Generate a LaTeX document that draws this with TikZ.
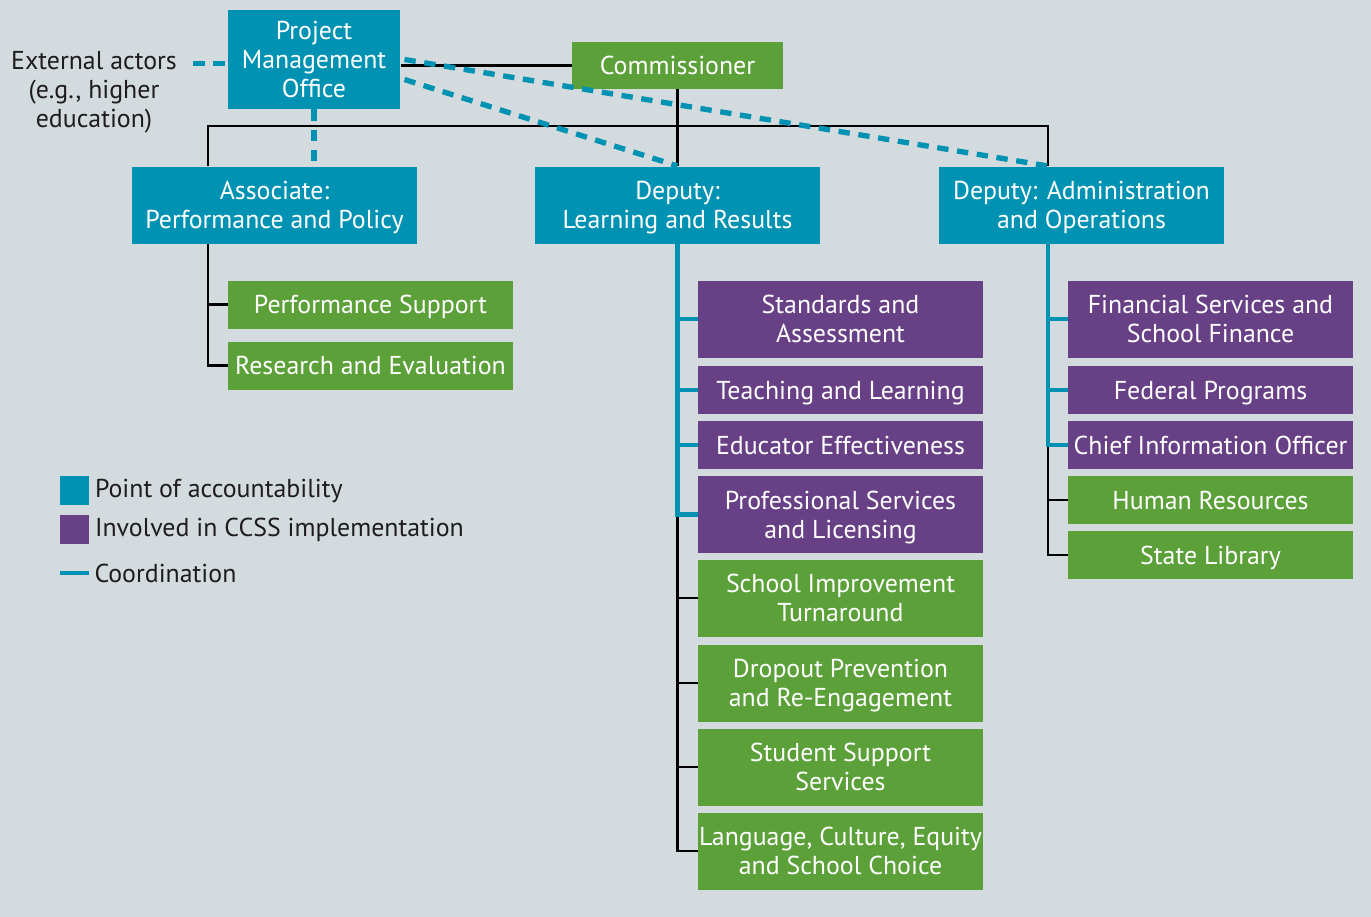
\documentclass[tikz,border=0pt]{standalone}
\usepackage{fontspec}
\setmainfont{PT Sans}
\usetikzlibrary{positioning}

\definecolor{bgcol}{RGB}{211,219,222}
\definecolor{tealcol}{RGB}{0,146,178}
\definecolor{greencol}{RGB}{92,160,57}
\definecolor{purplecol}{RGB}{104,64,134}
\definecolor{inkcol}{RGB}{30,28,29}

\tikzset{every picture/.style={line width=0.75pt}}
\tikzset{
  unit/.style={inner sep=0pt, align=center, text=white, text depth=0pt, font=\fontsize{19.4}{21.75}\selectfont},
  tallunit/.style={unit, minimum width=213.75pt, minimum height=57.75pt},
  flatunit/.style={unit, minimum width=213.75pt, minimum height=36pt},
  legtext/.style={inner sep=0pt, text=inkcol, align=center, font=\fontsize{19.4}{21.75}\selectfont},
  legsquare/.style={inner sep=0pt, minimum size=21.75pt},
  orgline/.style={draw=black, line width=1.9pt},
  coordline/.style={draw=tealcol, line width=3.6pt},
  coorddash/.style={draw=tealcol, line width=4pt, dash pattern=on 8.5pt off 6.5pt}
}

\begin{document}
\begin{tikzpicture}[x=0.75pt,y=0.75pt,yscale=-1,xscale=1]
	%background
	\fill[bgcol] (0,0) rectangle (1371,917);
	\useasboundingbox (0,0) rectangle (1371,917);

	%Shape: Rectangle - top level
	\node[unit, fill=tealcol, minimum width=129pt, minimum height=74.25pt] (pmo) at (314,59.5) {Project\\Management\\Office};
	\node[unit, fill=greencol, minimum width=158.25pt, minimum height=35.25pt] (comm) at (677.5,65.5) {Commissioner};
	% Text Node
	\node[legtext] (ext) at (94,92) {External actors\\(e.g., higher\\education)};

	%Shape: Rectangle - second level
	\node[tallunit, fill=tealcol] (assoc) at (274.5,205) {Associate:\\Performance and Policy};
	\node[tallunit, fill=tealcol] (ldep) at (677.5,205) {Deputy:\\Learning and Results};
	\node[tallunit, fill=tealcol] (adep) at (1081.5,205) {Deputy: Administration\\and Operations};

	%Shape: Rectangle - under associate
	\node[flatunit, fill=greencol] (perf) at (370.5,304.5) {Performance Support};
	\node[flatunit, fill=greencol] (res) at (370.5,365.5) {Research and Evaluation};

	%Shape: Rectangle - under deputy learning
	\node[tallunit, fill=purplecol] (std) at (840.5,319) {Standards and\\Assessment};
	\node[flatunit, fill=purplecol] (teach) at (840.5,390) {Teaching and Learning};
	\node[flatunit, fill=purplecol] (edu) at (840.5,445) {Educator Effectiveness};
	\node[tallunit, fill=purplecol] (prof) at (840.5,514.5) {Professional Services\\and Licensing};
	\node[tallunit, fill=greencol] (imp) at (840.5,598) {School Improvement\\Turnaround};
	\node[tallunit, fill=greencol] (drop) at (840.5,683) {Dropout Prevention\\and Re-Engagement};
	\node[tallunit, fill=greencol] (stud) at (840.5,767) {Student Support\\Services};
	\node[tallunit, fill=greencol] (lang) at (840.5,851) {Language, Culture, Equity\\and School Choice};

	%Shape: Rectangle - under deputy administration
	\node[tallunit, fill=purplecol] (fin) at (1210.5,319) {Financial Services and\\School Finance};
	\node[flatunit, fill=purplecol] (fed) at (1210.5,390) {Federal Programs};
	\node[flatunit, fill=purplecol] (cio) at (1210.5,445) {Chief Information Officer};
	\node[flatunit, fill=greencol] (hr) at (1210.5,500) {Human Resources};
	\node[flatunit, fill=greencol] (lib) at (1210.5,555) {State Library};

	%Straight Lines - reporting
	\coordinate (busl) at (208,126);
	\coordinate (busr) at (1048,126);
	\draw[orgline] (pmo.east |- comm) -- (comm.west);
	\draw[orgline] (comm.south) -- (ldep.north);
	\draw[orgline] (busl |- assoc.north) -- (busl) -- (busr) -- (busr |- adep.north);
	\draw[orgline] (busl |- assoc.south) |- (res.west);
	\draw[orgline] (busl |- perf) -- (perf.west);
	\draw[orgline] (ldep.south |- prof) |- (lang.west);
	\foreach \unitname in {imp,drop,stud}
		\draw[orgline] (ldep.south |- \unitname) -- (\unitname.west);
	\draw[orgline] (busr |- cio) |- (lib.west);
	\draw[orgline] (busr |- hr) -- (hr.west);

	%Straight Lines - coordination
	\draw[coordline] (ldep.south) |- (prof.west);
	\foreach \unitname in {std,teach,edu}
		\draw[coordline] (ldep.south |- \unitname) -- (\unitname.west);
	\draw[coordline] (busr |- adep.south) |- (cio.west);
	\foreach \unitname in {fin,fed}
		\draw[coordline] (busr |- \unitname) -- (\unitname.west);

	%Dashed Lines
	\draw[coorddash] ([xshift=12pt,yshift=3pt]ext.east |- pmo.west) -- ([yshift=3pt]pmo.west);
	\draw[coorddash] (pmo.south) -- (pmo.south |- assoc.north);
	\draw[coorddash] ([xshift=3pt]pmo.east) -- (busr |- adep.north);
	\draw[coorddash] ([xshift=3pt,yshift=15pt]pmo.east) -- (ldep.north);

	%Legend
	\node[legsquare, fill=tealcol] (lacc) at (74.5,490.5) {};
	\node[legsquare, fill=purplecol] (limp) at (74.5,529.5) {};
	\coordinate (lco1) at (60,573);
	\coordinate (lco2) at (89,573);
	\draw[coordline] (lco1) -- (lco2);
	% Text Node
	\node[legtext, anchor=west, right=3.75pt of lacc] {Point of accountability};
	\node[legtext, anchor=west, right=3.75pt of limp] {Involved in CCSS implementation};
	\node[legtext, anchor=west, right=3.75pt of lco2] {Coordination};

\end{tikzpicture}
\end{document}
